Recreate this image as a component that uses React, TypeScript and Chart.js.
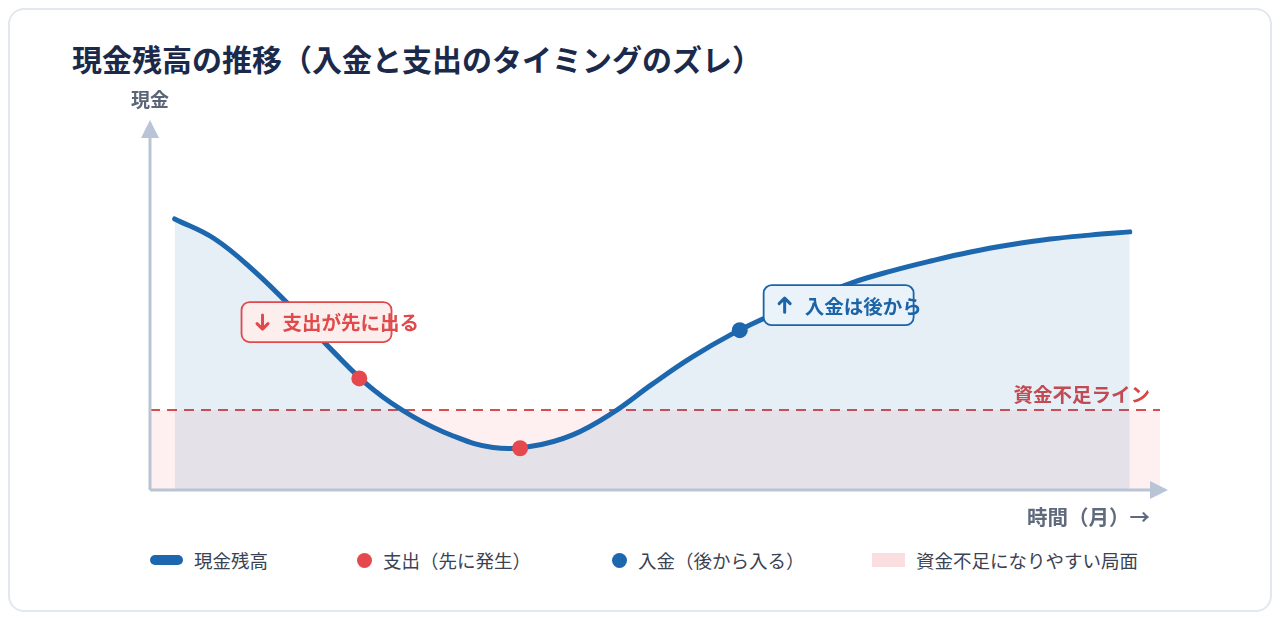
import React, { useRef, useEffect } from 'react';
import { Chart, registerables, Plugin } from 'chart.js';

Chart.register(...registerables);

// months along the x axis (half-month steps) and the cash balance
const months = [0, 0.5, 1, 1.5, 2, 2.5, 3, 3.5, 4, 4.5, 5, 5.5, 6, 6.5, 7, 7.5, 8, 8.5, 9, 9.5, 10, 10.5, 11, 11.5, 12];
const cashBalance = [
  75.3, 69.8, 60.8, 50.0, 38.3, 27.8, 20.3, 15.0, 11.8, 12.2, 15.3, 21.4, 29.4,
  36.9, 43.3, 48.6, 53.1, 57.5, 60.8, 63.6, 66.1, 68.1, 69.7, 70.8, 71.7,
];

// marker points on the curve
const expenseMonths = [2.32, 4.34];
const expenseValues = [31.0, 11.6];
const incomeMonths = [7.1];
const incomeValues = [44.4];

// level below which cash is short
const shortageLine = 22.2;

const FONT = "'Noto Sans CJK JP', 'Noto Sans', sans-serif";
const BLUE = '#1c67ad';
const RED = '#e5484d';
const AXIS = '#b9c5d6';

// callout boxes anchored in data units (top-left corner)
const callouts = [
  { x: 0.84, y: 52.2, dir: 1, text: '支出が先に出る', color: '#e04a4a', fill: '#fdeeee' },
  { x: 7.4, y: 56.9, dir: -1, text: '入金は後から', color: '#1c64a8', fill: '#eaf2fa' },
];

const roundRect = (ctx: CanvasRenderingContext2D, x: number, y: number, w: number, h: number, r: number) => {
  ctx.beginPath();
  ctx.moveTo(x + r, y);
  ctx.arcTo(x + w, y, x + w, y + h, r);
  ctx.arcTo(x + w, y + h, x, y + h, r);
  ctx.arcTo(x, y + h, x, y, r);
  ctx.arcTo(x, y, x + w, y, r);
  ctx.closePath();
};

// small bold up/down arrow icon
const drawArrow = (ctx: CanvasRenderingContext2D, cx: number, cy: number, dir: number, color: string) => {
  ctx.save();
  ctx.strokeStyle = color;
  ctx.lineWidth = 3;
  ctx.lineCap = 'round';
  ctx.lineJoin = 'round';
  ctx.beginPath();
  ctx.moveTo(cx, cy - 7 * dir);
  ctx.lineTo(cx, cy + 7 * dir);
  ctx.moveTo(cx - 5.5, cy + 1.5 * dir);
  ctx.lineTo(cx, cy + 7 * dir);
  ctx.lineTo(cx + 5.5, cy + 1.5 * dir);
  ctx.stroke();
  ctx.restore();
};

const decorPlugin: Plugin<'line'> = {
  id: 'decor',
  beforeDatasetsDraw(chart) {
    const { ctx, chartArea, scales } = chart;
    const yLine = scales.y.getPixelForValue(shortageLine);
    ctx.save();
    // shortage band
    ctx.fillStyle = 'rgba(239, 68, 68, 0.08)';
    ctx.fillRect(chartArea.left, yLine, chartArea.right - chartArea.left, chartArea.bottom - yLine);
    // dashed shortage line
    ctx.strokeStyle = '#dc4c4c';
    ctx.lineWidth = 2;
    ctx.setLineDash([10, 7]);
    ctx.beginPath();
    ctx.moveTo(chartArea.left, yLine);
    ctx.lineTo(chartArea.right, yLine);
    ctx.stroke();
    ctx.setLineDash([]);
    ctx.fillStyle = '#d64848';
    ctx.font = `bold 19.5px ${FONT}`;
    ctx.textAlign = 'right';
    ctx.textBaseline = 'middle';
    ctx.fillText('資金不足ライン', chartArea.right - 10, yLine - 15);
    ctx.restore();
  },
  afterDatasetsDraw(chart) {
    const { ctx, chartArea, scales } = chart;
    const left = chartArea.left;
    const bottom = chartArea.bottom;
    ctx.save();
    // axes with arrow heads
    ctx.strokeStyle = AXIS;
    ctx.fillStyle = AXIS;
    ctx.lineWidth = 3;
    ctx.beginPath();
    ctx.moveTo(left, bottom);
    ctx.lineTo(left, chartArea.top + 6);
    ctx.moveTo(left, bottom);
    ctx.lineTo(chartArea.right - 8, bottom);
    ctx.stroke();
    ctx.beginPath();
    ctx.moveTo(left, chartArea.top - 10);
    ctx.lineTo(left - 9, chartArea.top + 8);
    ctx.lineTo(left + 9, chartArea.top + 8);
    ctx.closePath();
    ctx.fill();
    ctx.beginPath();
    ctx.moveTo(chartArea.right + 8, bottom);
    ctx.lineTo(chartArea.right - 10, bottom - 9);
    ctx.lineTo(chartArea.right - 10, bottom + 9);
    ctx.closePath();
    ctx.fill();

    // axis titles
    ctx.textBaseline = 'middle';
    ctx.fillStyle = '#5b6577';
    ctx.font = `bold 19px ${FONT}`;
    ctx.textAlign = 'center';
    ctx.fillText('現金', left, chartArea.top - 30);
    ctx.fillStyle = '#5f6b7d';
    ctx.font = `bold 20.5px ${FONT}`;
    ctx.textAlign = 'right';
    ctx.fillText('時間（月）→', chartArea.right - 10, bottom + 27);

    // callouts
    callouts.forEach((c) => {
      const x = scales.x.getPixelForValue(c.x);
      const y = scales.y.getPixelForValue(c.y);
      roundRect(ctx, x, y, 150, 40, 8);
      ctx.fillStyle = c.fill;
      ctx.fill();
      ctx.strokeStyle = c.color;
      ctx.lineWidth = 1.8;
      ctx.stroke();
      drawArrow(ctx, x + 21, y + 20, c.dir, c.color);
      ctx.fillStyle = c.color;
      ctx.font = `bold 19.5px ${FONT}`;
      ctx.textAlign = 'left';
      ctx.fillText(c.text, x + 41, y + 21);
    });
    ctx.restore();
  },
};

const LegendItem: React.FC<{ left: number; swatch: React.CSSProperties; label: string }> = ({ left, swatch, label }) => (
  <div style={{ position: 'absolute', left, top: 0, display: 'flex', alignItems: 'center', height: 22 }}>
    <span style={{ display: 'inline-block', ...swatch }} />
    <span style={{ marginLeft: 11, fontSize: 18.5, color: '#3a4353', whiteSpace: 'nowrap' }}>{label}</span>
  </div>
);

const App: React.FC = () => {
  const chartRef = useRef<HTMLCanvasElement | null>(null);
  const chartInstance = useRef<Chart | null>(null);

  useEffect(() => {
    if (!chartRef.current) return;
    if (chartInstance.current) {
      chartInstance.current.destroy();
    }
    const ctx = chartRef.current.getContext('2d');
    if (!ctx) return;

    chartInstance.current = new Chart(ctx, {
      type: 'line',
      data: {
        datasets: [
          {
            label: '支出（先に発生）',
            data: expenseMonths.map((m, i) => ({ x: m, y: expenseValues[i] })),
            showLine: false,
            pointRadius: 8,
            pointBackgroundColor: RED,
            pointBorderWidth: 0,
            order: 0,
          },
          {
            label: '入金（後から入る）',
            data: incomeMonths.map((m, i) => ({ x: m, y: incomeValues[i] })),
            showLine: false,
            pointRadius: 8,
            pointBackgroundColor: BLUE,
            pointBorderWidth: 0,
            order: 0,
          },
          {
            label: '現金残高',
            data: months.map((m, i) => ({ x: m, y: cashBalance[i] })),
            borderColor: BLUE,
            borderWidth: 5,
            borderCapStyle: 'round',
            borderJoinStyle: 'round',
            backgroundColor: 'rgba(30, 100, 170, 0.11)',
            fill: 'origin',
            pointRadius: 0,
            tension: 0.4,
            order: 2,
          },
        ],
      },
      options: {
        responsive: true,
        maintainAspectRatio: false,
        animation: false,
        layout: { padding: { left: 50, right: 40, top: 50, bottom: 50 } },
        plugins: {
          legend: { display: false },
          tooltip: { enabled: false },
        },
        scales: {
          x: { type: 'linear', min: -0.31, max: 12.38, display: false },
          y: { min: 0, max: 100, display: false },
        },
      },
      plugins: [decorPlugin],
    });

    return () => {
      if (chartInstance.current) {
        chartInstance.current.destroy();
        chartInstance.current = null;
      }
    };
  }, []);

  return (
    <div
      style={{
        position: 'relative',
        width: 1260,
        height: 600,
        border: '2px solid #e3e8ef',
        borderRadius: 16,
        background: '#fff',
        fontFamily: FONT,
      }}
    >
      <div
        style={{
          position: 'absolute',
          left: 62,
          top: 32,
          fontSize: 30,
          lineHeight: '32px',
          fontWeight: 700,
          color: '#1b2a4a',
          whiteSpace: 'nowrap',
        }}
      >
        現金残高の推移（入金と支出のタイミングのズレ）
      </div>
      <div style={{ position: 'absolute', left: 90, top: 70, width: 1100, height: 460 }}>
        <canvas ref={chartRef}></canvas>
      </div>
      <div style={{ position: 'absolute', left: 0, top: 539, width: '100%', height: 22 }}>
        <LegendItem left={140} label="現金残高" swatch={{ width: 33, height: 10, borderRadius: 5, background: BLUE }} />
        <LegendItem left={347} label="支出（先に発生）" swatch={{ width: 15, height: 15, borderRadius: '50%', background: RED }} />
        <LegendItem left={602} label="入金（後から入る）" swatch={{ width: 15, height: 15, borderRadius: '50%', background: BLUE }} />
        <LegendItem left={862} label="資金不足になりやすい局面" swatch={{ width: 33, height: 14, background: '#fbdfe0' }} />
      </div>
    </div>
  );
};

export default App;
